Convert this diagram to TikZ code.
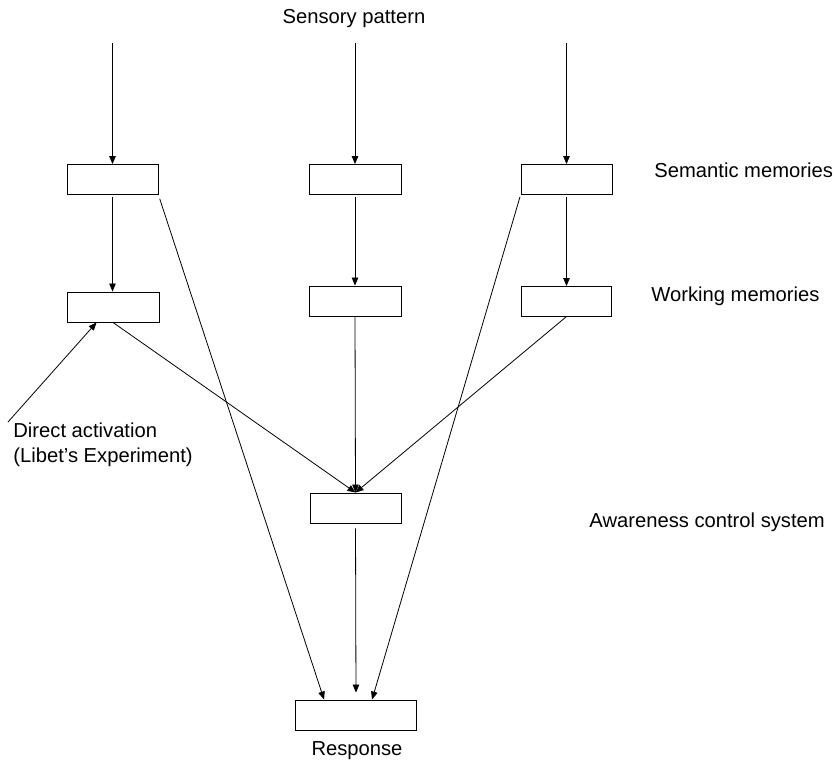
\documentclass[tikz,border=0pt]{standalone}
\usepackage{fontspec}
\setmainfont{Liberation Sans}
\usepackage{tikz}
\usetikzlibrary{arrows.meta}

\begin{document}
\begin{tikzpicture}[x=1pt, y=-1pt, line width=0.8pt, >={Triangle[length=8pt,width=6.5pt]},
        box/.style={draw, line width=0.9pt, minimum width=91pt, minimum height=30pt, inner sep=0pt},
        lbl/.style={inner sep=0pt, font=\fontsize{20.2}{25}\selectfont}]
        \useasboundingbox (0,0) rectangle (835,761);

        % the boxes
        \node[box] (sm1) at (112.5, 179.5) {};
        \node[box, minimum width=92pt] (sm2) at (355, 179.5) {};
        \node[box] (sm3) at (566.5, 179.5) {};

        \node[box, minimum width=92pt] (wm1) at (113, 307) {};
        \node[box, minimum width=92pt] (wm2) at (355, 301) {};
        \node[box, minimum width=90pt] (wm3) at (566, 301.5) {};

        \node[box] (acs) at (355.5, 508) {};
        \node[box, minimum width=121pt] (resp) at (356, 715) {};

        % labels
        \node[lbl, anchor=base] (sp) at (354, 23) {Sensory pattern};
        \node[lbl, anchor=base west] (sml) at (654, 177) {Semantic memories};
        \node[lbl, anchor=base west] (wml) at (651, 301) {Working memories};
        \node[lbl, anchor=base west] (acsl) at (589, 527) {Awareness control system};
        \node[lbl, anchor=base] (respl) at (357, 755) {Response};
        \node[lbl, anchor=north west, align=left] (dal) at (13, 422) {Direct activation\\(Libet's Experiment)};

        \coordinate (in1) at (112.5, 43);
        \coordinate (in2) at (355, 43);
        \coordinate (in3) at (566.5, 43);
        \coordinate (da) at (8, 422);

        % sensory input into semantic memories
        \draw[->] (in1) -- (sm1.north);
        \draw[->] (in2) -- (sm2.north);
        \draw[->] (in3) -- (sm3.north);

        % semantic to working memories
        \draw[->, shorten <=2pt] (sm1.south) -- (sm1.south |- wm1.north);
        \draw[->, shorten <=2pt] (sm2.south) -- (wm2.north);
        \draw[->, shorten <=2pt] (sm3.south) -- (sm3.south |- wm3.north);

        % working memories into the awareness control system
        \draw[->] (wm1.south) -- (acs.north);
        \draw[->] (wm2.south) -- (acs.north);
        \draw[->] (wm3.south) -- (acs.north);

        % straight to the response
        \draw[->, shorten <=4pt] (sm1.south east) -- ([xshift=29pt]resp.north west);
        \draw[->, shorten <=2pt] (sm3.south west) -- ([xshift=77pt]resp.north west);
        \draw[->, shorten <=5pt, shorten >=7pt] (acs.south) -- (resp.north);

        \draw[->] (da) -- ([xshift=30pt]wm1.south west);
\end{tikzpicture}
\end{document}
